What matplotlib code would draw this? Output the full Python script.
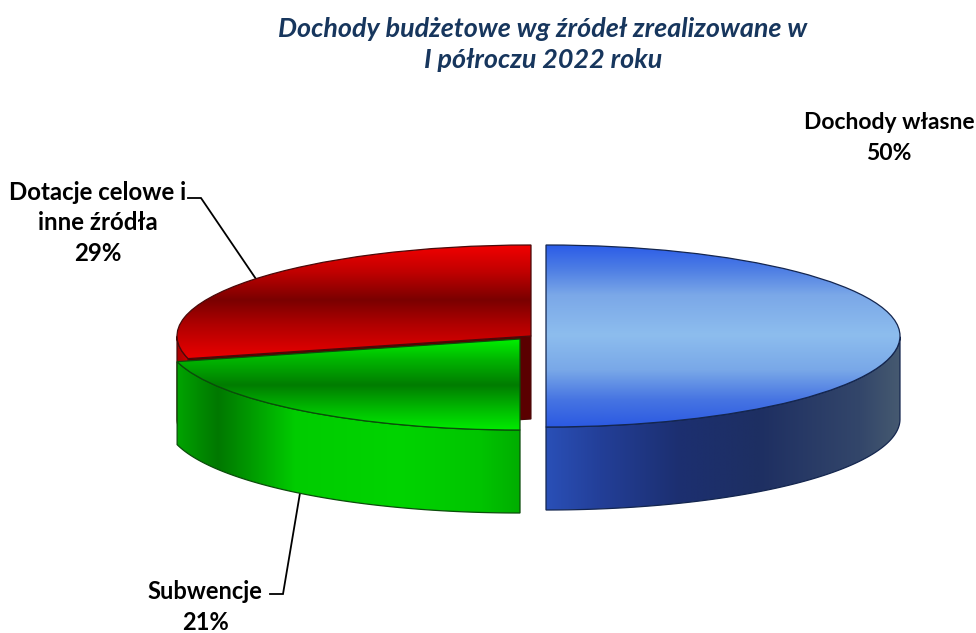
import numpy as np
import matplotlib
matplotlib.use("Agg")
import matplotlib.pyplot as plt
from matplotlib.colors import LinearSegmentedColormap, to_rgb
from matplotlib.patches import Polygon

# ---- data ----
categories = ["Dochody własne", "Subwencje", "Dotacje celowe i\ninne źródła"]
values = [50, 21, 29]

title_lines = ["Dochody budżetowe wg źródeł zrealizowane w", "I półroczu 2022 roku"]

W, H = 976, 633
RX, RY, DEPTH = 354.0, 91.0, 83.0
FONT = "Lato"
centers = [(546, 336), (520, 339), (531, 336)]
top_stops = [
    [(245, "#2b5ce8"), (270, "#4f7fe4"), (295, "#7ba8e8"), (335, "#8dbdee"), (370, "#79a8e8"), (400, "#4674e2"), (428, "#2a58e2")],
    [(339, "#00f000"), (360, "#00b400"), (385, "#007c00"), (408, "#00b800"), (431, "#00ee00")],
    [(245, "#f20000"), (272, "#c00000"), (300, "#7a0000"), (325, "#b00000"), (362, "#f00000")],
]
wall_stops = [
    [(545, "#2a50b8"), (600, "#233f98"), (680, "#1c2f70"), (760, "#1e2f62"), (860, "#33466a"), (901, "#465a70")],
    [(177, "#00a400"), (198, "#008c00"), (218, "#007800"), (245, "#009400"), (295, "#00cc00"), (400, "#00d400"), (480, "#00c400"), (520, "#00ae00")],
    [(175, "#a00000"), (190, "#d00000"), (531, "#5a0000")],
]
edges = ["#14264f", "#0b4d0b", "#4a0a0a"]

fig = plt.figure(figsize=(W / 100, H / 100), dpi=100, facecolor="white")
ax = fig.add_axes([0, 0, 1, 1])


def dx(px):
    return px / RX


def dy(py):
    return (H - py) / RY


def gradient(stops, axis, extent, z, clip):
    pos = np.array([s[0] for s in stops], float)
    lo, hi = pos.min(), pos.max()
    cmap = LinearSegmentedColormap.from_list(
        "g", [((p - lo) / (hi - lo), to_rgb(c)) for p, c in stops], N=512)
    ramp = np.linspace(0, 1, 512)
    arr = ramp[None, :] if axis == "x" else ramp[:, None]
    im = ax.imshow(arr, cmap=cmap, extent=extent, aspect="auto", zorder=z,
                   origin="upper", interpolation="bilinear")
    im.set_clip_path(clip)


wedges, _ = ax.pie(values, startangle=90, counterclock=False, radius=1,
                   wedgeprops=dict(facecolor="none", linewidth=0.9))

# painting order: red (back), green, blue
for order, i in enumerate([2, 1, 0]):
    w = wedges[i]
    cx, cy = centers[i]
    X, Y = dx(cx), dy(cy)
    w.set_center((X, Y))
    w.set_edgecolor(edges[i])
    base = 10 * order + 5
    d = DEPTH / RY
    t = np.radians(np.linspace(w.theta1, w.theta2, 200))
    # visible part of the outer rim faces the viewer (sin < 0)
    t = t[np.sin(t) <= 0.0001]
    rim_top = np.c_[X + np.cos(t), Y + np.sin(t)]
    rim_bot = rim_top[::-1] - [0, d]
    rim = Polygon(np.r_[rim_top, rim_bot], closed=True, facecolor="none",
                  edgecolor=edges[i], linewidth=0.9, zorder=base + 2)
    ax.add_patch(rim)
    px0, px1 = wall_stops[i][0][0], wall_stops[i][-1][0]
    gradient(wall_stops[i], "x", (dx(px0), dx(px1), dy(cy + RY + DEPTH + 5), dy(cy - 10)), base + 1, rim)
    # radial cut face of the red slice, seen behind the green one
    if i == 2:
        a = np.radians(w.theta2)
        tip = np.array([X + np.cos(a), Y + np.sin(a)])
        face = Polygon([(X, Y), tip, tip - [0, d], (X, Y - d)], closed=True,
                       facecolor="#5a0000", edgecolor="#4a0a0a", linewidth=0.8, zorder=base)
        ax.add_patch(face)
    w.set_zorder(base + 4)
    ts = top_stops[i]
    gradient(ts, "y", (dx(cx - RX - 3), dx(cx + RX + 3), dy(ts[-1][0]), dy(ts[0][0])), base + 3, w)

ax.set_aspect("auto")
ax.set_xlim(0, W / RX)
ax.set_ylim(0, H / RY)
ax.axis("off")

# title
for line, y in zip(title_lines, [29, 60]):
    ax.text(dx(543), dy(y), line, family=FONT, fontsize=19.4, fontweight="bold", fontstyle="italic",
            color="#17365d", ha="center", va="center", zorder=60)

# labels
label_pos = [(889, 138), (205, 607), (98, 223)]
label_sizes = [16.5, 17, 17.3]
label_spacing = [1.58, 1.38, 1.38]
for cat, v, (lx, ly), fs, ls in zip(categories, values, label_pos, label_sizes, label_spacing):
    ax.text(dx(lx), dy(ly), f"{cat}\n{v}%", family=FONT, fontsize=fs, fontweight="bold",
            color="black", ha="center", va="center", linespacing=ls, zorder=60)

# leader lines
for pts in ([(188, 198), (201, 198), (256, 279)], [(270, 594), (283, 594), (300, 493)]):
    ax.plot([dx(p[0]) for p in pts], [dy(p[1]) for p in pts], color="black", lw=1.3, zorder=3,
            solid_joinstyle="miter", scalex=False, scaley=False)

fig.savefig("out.png", dpi=100, facecolor="white")
